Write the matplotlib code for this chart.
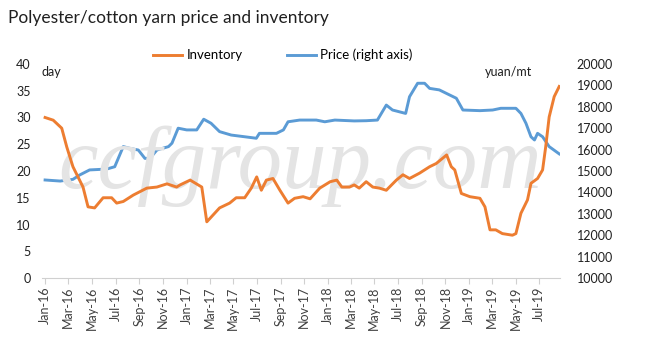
import matplotlib
matplotlib.use("Agg")
import matplotlib.pyplot as plt
import matplotlib.dates as mdates
import pandas as pd

# ---- data ----
inv_dates = ["2016-01-01", "2016-01-22", "2016-02-13", "2016-02-26", "2016-03-13", "2016-04-08",
             "2016-04-21", "2016-05-08", "2016-05-30", "2016-06-21", "2016-07-04", "2016-07-21",
             "2016-08-16", "2016-09-20", "2016-10-16", "2016-11-11", "2016-12-06", "2016-12-15",
             "2017-01-10", "2017-02-09", "2017-02-22", "2017-03-27", "2017-04-22", "2017-05-09",
             "2017-05-31", "2017-06-17", "2017-07-01", "2017-07-13", "2017-07-26", "2017-08-12",
             "2017-08-30", "2017-09-20", "2017-10-07", "2017-10-29", "2017-11-16", "2017-12-11",
             "2018-01-07", "2018-01-24", "2018-02-06", "2018-02-26", "2018-03-10", "2018-03-23",
             "2018-04-10", "2018-04-27", "2018-05-14", "2018-06-01", "2018-06-27", "2018-07-14",
             "2018-07-31", "2018-08-26", "2018-09-21", "2018-10-08", "2018-11-04", "2018-11-16",
             "2018-11-25", "2018-12-12", "2019-01-03", "2019-01-29", "2019-02-11", "2019-02-24",
             "2019-03-11", "2019-03-28", "2019-04-23", "2019-05-02", "2019-05-15", "2019-06-01",
             "2019-06-10", "2019-06-27", "2019-07-10", "2019-07-18", "2019-07-27", "2019-08-09",
             "2019-08-22"]
inventory = [30.0, 29.5, 28.0, 24.5, 20.8, 17.0,
             13.3, 13.1, 15.0, 15.0, 14.0, 14.3,
             15.5, 16.8, 17.0, 17.6, 17.0, 17.4,
             18.3, 17.0, 10.5, 13.1, 14.0, 15.0,
             15.0, 16.8, 18.9, 16.4, 18.3, 18.6,
             16.4, 14.0, 14.9, 15.2, 14.8, 16.8,
             18.0, 18.3, 17.0, 17.0, 17.4, 16.8,
             18.0, 17.0, 16.8, 16.4, 18.3, 19.3,
             18.6, 19.6, 20.8, 21.4, 23.0, 20.8,
             20.2, 15.8, 15.2, 14.9, 13.3, 9.0,
             9.0, 8.3, 8.0, 8.3, 12.1, 14.6,
             17.7, 18.6, 20.2, 24.5, 30.1, 33.9,
             35.8]

price_dates = ["2016-01-01", "2016-02-09", "2016-03-13", "2016-03-30", "2016-04-25", "2016-06-08",
               "2016-06-29", "2016-07-21", "2016-08-07", "2016-08-29", "2016-09-15", "2016-09-28",
               "2016-10-16", "2016-11-15", "2016-11-24", "2016-12-10", "2017-01-01", "2017-01-27",
               "2017-02-14", "2017-03-05", "2017-03-27", "2017-04-26", "2017-05-31", "2017-06-30",
               "2017-07-08", "2017-08-21", "2017-09-08", "2017-09-20", "2017-10-20", "2017-12-02",
               "2017-12-24", "2018-01-19", "2018-03-10", "2018-04-10", "2018-05-09", "2018-06-01",
               "2018-06-17", "2018-07-21", "2018-07-31", "2018-08-21", "2018-09-08", "2018-09-21",
               "2018-10-16", "2018-11-12", "2018-11-29", "2018-12-16", "2019-01-29", "2019-03-03",
               "2019-03-24", "2019-05-02", "2019-05-15", "2019-05-28", "2019-06-10", "2019-06-19",
               "2019-06-27", "2019-07-10", "2019-07-27", "2019-08-22"]
price = [14580, 14530, 14610, 14810, 15050, 15090,
         15200, 16140, 16060, 15980, 15590, 15590,
         15980, 16140, 16300, 17000, 16920, 16920,
         17420, 17230, 16840, 16680, 16600, 16530,
         16760, 16760, 16920, 17300, 17380, 17380,
         17300, 17380, 17340, 17350, 17380, 18080,
         17850, 17690, 18470, 19100, 19100, 18860,
         18790, 18550, 18400, 17850, 17820, 17850,
         17930, 17930, 17690, 17230, 16600, 16450,
         16760, 16600, 16140, 15800]

left_ticks = [0, 5, 10, 15, 20, 25, 30, 35, 40]
right_ticks = [10000, 11000, 12000, 13000, 14000, 15000, 16000, 17000, 18000, 19000, 20000]

title = "Polyester/cotton yarn price and inventory"

# ---- plot ----
FONT = ["Lato", "DejaVu Sans"]
plt.rcParams['font.family'] = FONT

W, H = 659, 357
fig = plt.figure(figsize=(W / 100, H / 100), dpi=100)
ax = fig.add_axes([42 / W, (H - 278) / H, 518 / W, 214 / H])
ax2 = ax.twinx()

inv_x = pd.to_datetime(inv_dates)
pr_x = pd.to_datetime(price_dates)

orange = "#ED7D31"
blue = "#5B9BD5"

# watermark
fig.text(300 / W, 1 - 166 / H, "ccfgroup.com", fontsize=64, color="#e4e4e4",
         family="Liberation Serif", style="italic", ha="center", va="center", zorder=0)
ax.patch.set_alpha(0)
ax2.patch.set_alpha(0)

l1, = ax.plot(inv_x, inventory, color=orange, lw=2.1, zorder=3)
l2, = ax2.plot(pr_x, price, color=blue, lw=2.1, zorder=2)
ax.set_zorder(ax2.get_zorder() + 1)

ax.set_ylim(0, 40)
ax.set_yticks(left_ticks)
ax2.set_ylim(10000, 20000)
ax2.set_yticks(right_ticks)

ax.set_xlim(pd.Timestamp("2015-12-24"), pd.Timestamp("2019-08-24"))
ax.xaxis.set_major_locator(mdates.MonthLocator(bymonth=[1, 3, 5, 7, 9, 11]))
ax.xaxis.set_major_formatter(mdates.DateFormatter("%b-%y"))
for lab in ax.get_xticklabels():
    lab.set_rotation(90)

for a in (ax, ax2):
    for s in a.spines.values():
        s.set_visible(False)
ax.spines['bottom'].set_visible(True)
ax.spines['bottom'].set_color("#d0d0d0")
ax.tick_params(axis='x', colors="#d0d0d0", labelcolor="#404040", length=4, width=0.8,
               labelsize=9, pad=2)
ax.tick_params(axis='y', length=0, labelsize=9, labelcolor="#202020", pad=8)
ax2.tick_params(axis='y', length=0, labelsize=9, labelcolor="#202020", pad=12)

fig.text(8 / W, 1 - 18 / H, title, fontsize=12.5, color="#202020", ha="left", va="center")
ax.text(0.0, 0.99, "day", transform=ax.transAxes, fontsize=9, color="#202020",
        ha="left", va="top")
ax.text(0.855, 0.99, "yuan/mt", transform=ax.transAxes, fontsize=9, color="#202020",
        ha="left", va="top")

fig.legend([l1, l2], ["Inventory", "Price (right axis)"], loc="center",
           bbox_to_anchor=(283 / W, 1 - 55 / H), ncol=2, frameon=False, fontsize=9.5,
           handlelength=2.2, columnspacing=3.4, handletextpad=0.3)

fig.savefig("out.png", dpi=100)
